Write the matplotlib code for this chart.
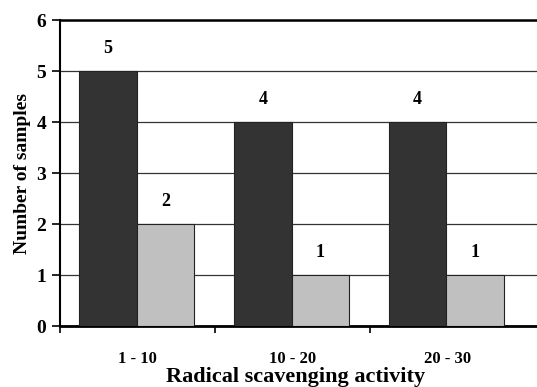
import matplotlib
matplotlib.use("Agg")
import matplotlib.pyplot as plt
import numpy as np

# data
categories = ['1 - 10', '10 - 20', '20 - 30']
series_dark = [5, 4, 4]
series_light = [2, 1, 1]

plt.rcParams['font.family'] = 'Liberation Serif'
plt.rcParams['font.weight'] = 'bold'

fig = plt.figure(figsize=(5.37, 3.87), dpi=100)
ax = fig.add_axes([0.1117, 0.1576, 0.8883, 0.7906])

x = np.arange(len(categories))
w = 0.37
ax.bar(x - 0.19, series_dark, width=w, color='#333333', edgecolor='#222222', linewidth=0.8, zorder=3)
ax.bar(x + 0.18, series_light, width=w, color='#c0c0c0', edgecolor='#222222', linewidth=0.8, zorder=3)

for xi, v in zip(x, series_dark):
    ax.text(xi - 0.19, v + 0.45, str(v), ha='center', va='center', fontsize=13, fontweight='bold')
for xi, v in zip(x, series_light):
    ax.text(xi + 0.18, v + 0.45, str(v), ha='center', va='center', fontsize=13, fontweight='bold')

ax.set_ylim(0, 6)
ax.set_xlim(-0.5, 2.58)
ax.set_yticks(range(7))
ax.yaxis.grid(True, color='#333333', linewidth=0.9, zorder=0)
ax.set_axisbelow(True)

ax.set_xticks(x)
ax.set_xticklabels(categories, fontsize=12, fontweight='bold')
ax.set_xticks([-0.5, 0.5, 1.5], minor=True)
ax.tick_params(axis='x', which='major', length=0, pad=18)
ax.tick_params(axis='x', which='minor', length=5, width=1.2, direction='out')
ax.tick_params(axis='y', length=6, width=1.2, labelsize=14, pad=4)
for lab in ax.get_yticklabels():
    lab.set_fontweight('bold')

ax.spines['right'].set_visible(False)
ax.spines['left'].set_linewidth(1.5)
ax.spines['bottom'].set_linewidth(2)
ax.spines['top'].set_linewidth(1.8)

ax.set_ylabel('Number of samples', fontsize=14, fontweight='bold', labelpad=4)
fig.text(0.55, 0.026, 'Radical scavenging activity', ha='center', va='center', fontsize=16, fontweight='bold')

fig.savefig('out.png', dpi=100)
